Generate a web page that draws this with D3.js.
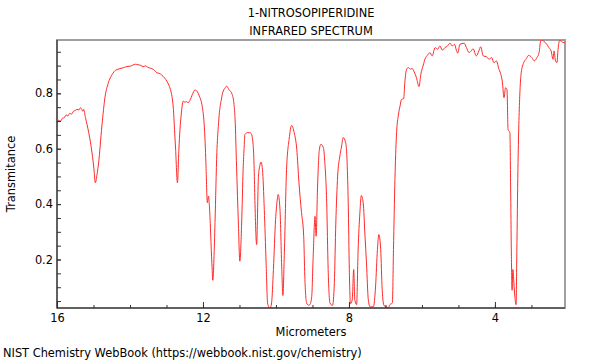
<!DOCTYPE html>
<html>
<head>
<meta charset="utf-8">
<script src="https://cdn.jsdelivr.net/npm/d3@7"></script>
<style>
  html, body { margin: 0; padding: 0; background: #fff; }
  svg { display: block; font-family: "DejaVu Sans", sans-serif; }
</style>
</head>
<body>
<svg id="chart" width="600" height="360"></svg>
<script>
const titleLines = ["1-NITROSOPIPERIDINE", "INFRARED SPECTRUM"];
const xLabel = "Micrometers";
const yLabel = "Transmitance";
const footer = "NIST Chemistry WebBook (https://webbook.nist.gov/chemistry)";

const xMajorTicks = [16, 12, 8, 4];
const xMinorTicks = [16, 15, 14, 13, 12, 11, 10, 9, 8, 7, 6, 5, 4, 3];
const yMajorTicks = [0.2, 0.4, 0.6, 0.8];
const yMinorTicks = [0.05, 0.1, 0.15, 0.2, 0.25, 0.3, 0.35, 0.4, 0.45, 0.5, 0.55, 0.6, 0.65, 0.7, 0.75, 0.8, 0.85, 0.9, 0.95];

const wavelength = [
 16.00, 15.95, 15.90, 15.85, 15.80, 15.75, 15.70, 15.65, 15.60, 15.55, 15.50, 15.45, 15.40, 15.36, 15.32, 15.29, 15.27, 15.22, 15.13, 15.04,
 14.99, 14.95, 14.90, 14.86, 14.77, 14.68, 14.60, 14.54, 14.47, 14.40, 14.30, 14.17, 14.08, 14.00, 13.92, 13.85, 13.78, 13.70, 13.64, 13.58,
 13.50, 13.40, 13.32, 13.26, 13.20, 13.13, 13.05, 12.99, 12.93, 12.88, 12.84, 12.81, 12.78, 12.75, 12.70, 12.66, 12.63, 12.60, 12.57, 12.54,
 12.50, 12.45, 12.41, 12.36, 12.29, 12.22, 12.15, 12.10, 12.04, 12.00, 11.97, 11.94, 11.92, 11.88, 11.85, 11.83, 11.80, 11.78, 11.75, 11.73,
 11.70, 11.67, 11.62, 11.58, 11.55, 11.50, 11.46, 11.40, 11.35, 11.29, 11.20, 11.15, 11.12, 11.08, 11.03, 10.99, 10.94, 10.90, 10.87, 10.85,
 10.78, 10.72, 10.68, 10.63, 10.60, 10.58, 10.53, 10.48, 10.44, 10.41, 10.37, 10.32, 10.27, 10.23, 10.19, 10.16, 10.12, 10.07, 10.01, 9.97,
 9.94, 9.89, 9.84, 9.81, 9.77, 9.71, 9.64, 9.57, 9.50, 9.43, 9.37, 9.30, 9.24, 9.21, 9.16, 9.11, 9.07, 9.02, 8.98, 8.93,
 8.90, 8.86, 8.81, 8.77, 8.70, 8.66, 8.61, 8.57, 8.52, 8.45, 8.40, 8.36, 8.31, 8.25, 8.20, 8.16, 8.09, 8.05, 8.02, 7.99,
 7.96, 7.91, 7.87, 7.84, 7.79, 7.75, 7.70, 7.66, 7.61, 7.56, 7.52, 7.47, 7.42, 7.33, 7.27, 7.22, 7.18, 7.13, 7.09, 7.04,
 6.97, 6.92, 6.88, 6.81, 6.78, 6.74, 6.70, 6.65, 6.60, 6.56, 6.50, 6.47, 6.42, 6.38, 6.31, 6.27, 6.21, 6.15, 6.08, 6.03,
 5.97, 5.90, 5.85, 5.78, 5.72, 5.64, 5.57, 5.51, 5.44, 5.37, 5.30, 5.23, 5.17, 5.11, 5.05, 5.02, 4.96, 4.84, 4.78, 4.71,
 4.65, 4.60, 4.51, 4.44, 4.39, 4.32, 4.23, 4.16, 4.09, 4.03, 3.96, 3.89, 3.85, 3.80, 3.75, 3.71, 3.67, 3.64, 3.59, 3.57,
 3.55, 3.53, 3.51, 3.48, 3.45, 3.42, 3.40, 3.37, 3.32, 3.28, 3.21, 3.14, 3.08, 2.99, 2.92, 2.85, 2.79, 2.74, 2.67, 2.58,
 2.52, 2.46, 2.41, 2.38, 2.34, 2.30, 2.27, 2.23, 2.19, 2.14, 2.08
];
const transmittance = [
 0.693, 0.703, 0.700, 0.710, 0.712, 0.722, 0.718, 0.728, 0.725, 0.735, 0.738, 0.742, 0.740, 0.748, 0.742, 0.735, 0.742, 0.712, 0.658, 0.585,
 0.530, 0.477, 0.510, 0.549, 0.682, 0.790, 0.835, 0.856, 0.872, 0.883, 0.888, 0.893, 0.897, 0.898, 0.902, 0.905, 0.903, 0.901, 0.896, 0.899,
 0.893, 0.889, 0.882, 0.874, 0.872, 0.866, 0.855, 0.844, 0.828, 0.808, 0.780, 0.742, 0.670, 0.598, 0.477, 0.598, 0.670, 0.718, 0.755, 0.772,
 0.768, 0.770, 0.766, 0.774, 0.796, 0.812, 0.805, 0.790, 0.766, 0.735, 0.694, 0.620, 0.549, 0.405, 0.429, 0.405, 0.330, 0.260, 0.170, 0.125,
 0.200, 0.334, 0.585, 0.680, 0.730, 0.775, 0.802, 0.818, 0.826, 0.814, 0.796, 0.760, 0.706, 0.537, 0.332, 0.194, 0.332, 0.525, 0.610, 0.652,
 0.658, 0.658, 0.655, 0.621, 0.540, 0.429, 0.254, 0.501, 0.540, 0.552, 0.525, 0.381, 0.188, 0.043, 0.028, 0.025, 0.043, 0.164, 0.345, 0.410,
 0.435, 0.381, 0.164, 0.070, 0.225, 0.525, 0.634, 0.684, 0.658, 0.598, 0.477, 0.370, 0.284, 0.140, 0.043, 0.035, 0.037, 0.067, 0.212, 0.356,
 0.284, 0.465, 0.598, 0.616, 0.603, 0.549, 0.405, 0.164, 0.043, 0.034, 0.116, 0.332, 0.501, 0.573, 0.610, 0.640, 0.622, 0.549, 0.405, 0.164,
 0.040, 0.055, 0.164, 0.055, 0.037, 0.230, 0.370, 0.431, 0.405, 0.284, 0.188, 0.055, 0.029, 0.029, 0.104, 0.236, 0.290, 0.236, 0.092, 0.034,
 0.029, 0.025, 0.037, 0.043, 0.236, 0.489, 0.646, 0.718, 0.754, 0.778, 0.781, 0.838, 0.887, 0.893, 0.887, 0.890, 0.877, 0.856, 0.824, 0.869,
 0.899, 0.929, 0.937, 0.947, 0.935, 0.965, 0.959, 0.971, 0.956, 0.965, 0.971, 0.981, 0.971, 0.977, 0.953, 0.945, 0.977, 0.981, 0.965, 0.947,
 0.953, 0.961, 0.935, 0.953, 0.968, 0.935, 0.932, 0.923, 0.929, 0.911, 0.917, 0.887, 0.874, 0.844, 0.784, 0.820, 0.814, 0.670, 0.658, 0.465,
 0.224, 0.089, 0.164, 0.116, 0.060, 0.037, 0.225, 0.525, 0.790, 0.874, 0.911, 0.925, 0.937, 0.929, 0.917, 0.929, 0.947, 0.993, 0.989, 0.977,
 0.965, 0.953, 0.923, 0.953, 0.917, 0.911, 0.959, 0.990, 0.990, 0.983, 0.985
];

const spectrum = wavelength.map((w, i) => ({ w, t: transmittance[i] }));

const plot = { left: 57, right: 565, top: 40, bottom: 308 };
const fontSize = 11.4;
const svg = d3.select("#chart");

const x = d3.scaleLinear().domain([16, 2.08]).range([plot.left, plot.right]);
const y = d3.scaleLinear().domain([0.025, 0.9925]).range([plot.bottom, plot.top]);

// frame
svg.append("rect")
  .attr("x", plot.left).attr("y", plot.top)
  .attr("width", plot.right - plot.left).attr("height", plot.bottom - plot.top)
  .attr("fill", "none").attr("stroke", "#a0a0a0").attr("stroke-width", 2);

// clip
svg.append("clipPath").attr("id", "clip").append("rect")
  .attr("x", plot.left).attr("y", plot.top)
  .attr("width", plot.right - plot.left).attr("height", plot.bottom - plot.top);

// spectrum line
svg.append("path")
  .datum(spectrum)
  .attr("clip-path", "url(#clip)")
  .attr("fill", "none")
  .attr("stroke", "#ff2a2a")
  .attr("stroke-width", 1)
  .attr("d", d3.line().x(d => x(d.w)).y(d => y(d.t)).curve(d3.curveMonotoneX));

// x axis minor ticks
const gxMinor = svg.append("g").attr("transform", `translate(0,${plot.bottom})`)
  .call(d3.axisBottom(x).tickValues(xMinorTicks).tickSize(-3).tickFormat(""));
gxMinor.select(".domain").remove();

// x axis major
const gx = svg.append("g").attr("transform", `translate(0,${plot.bottom})`)
  .call(d3.axisBottom(x).tickValues(xMajorTicks).tickSize(-6).tickPadding(6).tickFormat(d3.format("d")));
gx.select(".domain").remove();
gx.selectAll("text").attr("font-size", fontSize).attr("font-family", "DejaVu Sans").attr("fill", "#000");

// y axis minor
const gyMinor = svg.append("g").attr("transform", `translate(${plot.left},0)`)
  .call(d3.axisLeft(y).tickValues(yMinorTicks).tickSize(-4).tickFormat(""));
gyMinor.select(".domain").remove();

// y axis major labels
const gy = svg.append("g").attr("transform", `translate(${plot.left},0)`)
  .call(d3.axisLeft(y).tickValues(yMajorTicks).tickSize(-4).tickPadding(4).tickFormat(d3.format(".1f")));
gy.select(".domain").remove();
gy.selectAll("text").attr("font-size", fontSize).attr("font-family", "DejaVu Sans").attr("fill", "#000");

svg.selectAll(".tick line").attr("stroke", "#333");

// left and bottom axis lines
svg.append("line").attr("x1", plot.left).attr("x2", plot.left).attr("y1", plot.top).attr("y2", plot.bottom)
  .attr("stroke", "#222").attr("stroke-width", 1);
svg.append("line").attr("x1", plot.left).attr("x2", plot.right).attr("y1", plot.bottom).attr("y2", plot.bottom)
  .attr("stroke", "#222").attr("stroke-width", 1);

// titles
const cx = (plot.left + plot.right) / 2;
svg.selectAll(".title").data(titleLines).enter().append("text")
  .attr("class", "title")
  .attr("x", cx).attr("y", (d, i) => 17 + i * 18)
  .attr("text-anchor", "middle").attr("font-size", fontSize)
  .text(d => d);

svg.append("text").attr("x", cx).attr("y", 336)
  .attr("text-anchor", "middle").attr("font-size", fontSize).text(xLabel);

svg.append("text").attr("transform", `translate(15,${(plot.top + plot.bottom) / 2}) rotate(-90)`)
  .attr("text-anchor", "middle").attr("font-size", fontSize).text(yLabel);

svg.append("text").attr("x", 3).attr("y", 357).attr("font-size", fontSize).text(footer);
</script>
</body>
</html>
